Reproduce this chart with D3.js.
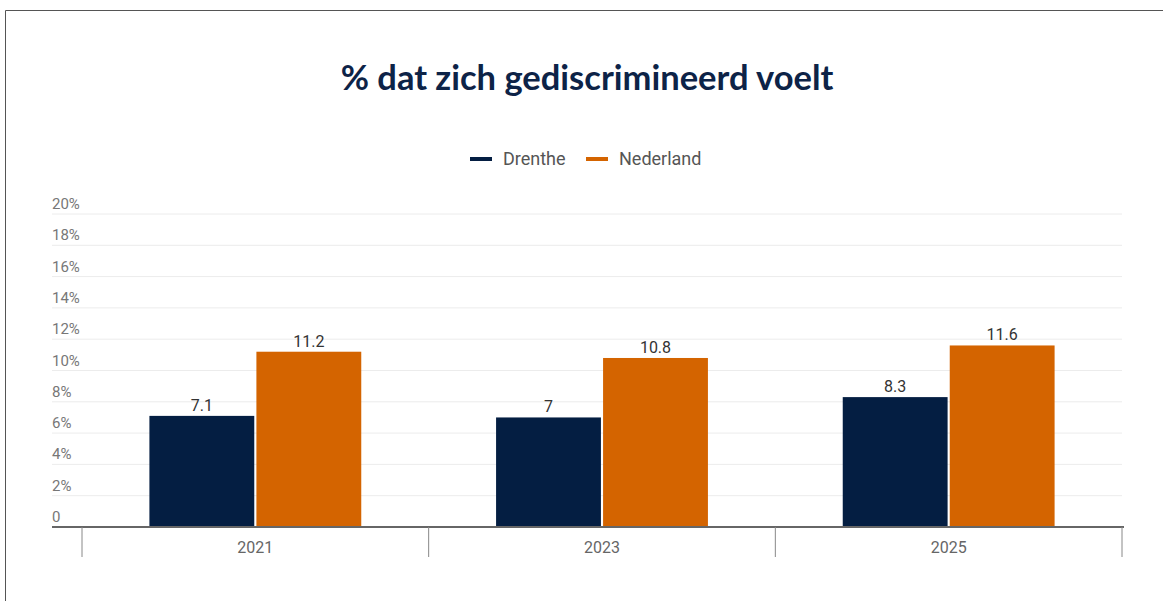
<!DOCTYPE html>
<html>
<head>
<meta charset="utf-8">
<script src="https://cdn.jsdelivr.net/npm/d3@7"></script>
<style>
  html, body { margin: 0; padding: 0; background: #fff; }
  svg { display: block; }
</style>
</head>
<body>
<svg id="chart" width="1163" height="601"></svg>
<script>
const years = ['2021', '2023', '2025'];
const seriesNames = ['Drenthe', 'Nederland'];
const drenthe = [7.1, 7, 8.3];
const nederland = [11.2, 10.8, 11.6];
const yTicks = [0, 2, 4, 6, 8, 10, 12, 14, 16, 18, 20];
const colors = ['#041e42', '#d46400'];

const svg = d3.select('#chart');
const width = 1163, height = 601;
const margin = { top: 214, bottom: 74, left: 82, right: 41 };

// frame
svg.append('path')
  .attr('d', `M5.5,${height} V10.5 H${width}`)
  .attr('fill', 'none')
  .attr('stroke', '#555')
  .attr('stroke-width', 1);

// title
svg.append('text')
  .attr('x', 587)
  .attr('y', 90)
  .attr('text-anchor', 'middle')
  .attr('font-family', 'Lato, sans-serif')
  .attr('font-weight', 'bold')
  .attr('font-size', 34.5)
  .attr('fill', '#0d2347')
  .text('% dat zich gediscrimineerd voelt');

// legend
const legend = svg.append('g').attr('font-family', 'Roboto, sans-serif').attr('font-size', 18);
const legendX = [470, 586];
seriesNames.forEach((name, i) => {
  legend.append('line')
    .attr('x1', legendX[i]).attr('x2', legendX[i] + 22)
    .attr('y1', 159).attr('y2', 159)
    .attr('stroke', colors[i]).attr('stroke-width', 4);
  legend.append('text')
    .attr('x', legendX[i] + 33).attr('y', 165)
    .attr('fill', '#555')
    .text(name);
});

const x0 = d3.scaleBand()
  .domain(years)
  .range([margin.left, width - margin.right])
  .paddingInner(0)
  .paddingOuter(0);

const x1 = d3.scaleBand()
  .domain(seriesNames)
  .range([0, x0.bandwidth()])
  .paddingOuter(0.63)
  .paddingInner(0.02);

const y = d3.scaleLinear()
  .domain([0, 20])
  .range([height - margin.bottom, margin.top]);

// grid + y labels
const grid = svg.append('g');
yTicks.forEach(t => {
  if (t > 0) {
    grid.append('line')
      .attr('x1', 52).attr('x2', 1122)
      .attr('y1', y(t)).attr('y2', y(t))
      .attr('stroke', '#ececec').attr('stroke-width', 1);
  }
  grid.append('text')
    .attr('x', 52).attr('y', y(t) - 5)
    .attr('font-family', 'Roboto, sans-serif')
    .attr('font-size', 15)
    .attr('fill', '#777')
    .text(t === 0 ? '0' : t + '%');
});

// bars
const data = years.map((yr, i) => ({ year: yr, values: [drenthe[i], nederland[i]] }));
const groups = svg.append('g')
  .selectAll('g')
  .data(data)
  .join('g')
  .attr('transform', d => `translate(${x0(d.year)},0)`);

groups.selectAll('rect')
  .data(d => d.values.map((v, i) => ({ key: seriesNames[i], value: v, i })))
  .join('rect')
  .attr('x', d => x1(d.key))
  .attr('y', d => y(d.value))
  .attr('width', x1.bandwidth())
  .attr('height', d => y(0) - y(d.value))
  .attr('fill', d => colors[d.i]);

groups.selectAll('text.val')
  .data(d => d.values.map((v, i) => ({ key: seriesNames[i], value: v })))
  .join('text')
  .attr('class', 'val')
  .attr('x', d => x1(d.key) + x1.bandwidth() / 2)
  .attr('y', d => y(d.value) - 5)
  .attr('text-anchor', 'middle')
  .attr('font-family', 'Roboto, sans-serif')
  .attr('font-size', 16)
  .attr('fill', '#333')
  .text(d => d.value);

// x axis
const base = y(0);
svg.append('line')
  .attr('x1', 52).attr('x2', 1124)
  .attr('y1', base).attr('y2', base)
  .attr('stroke', '#666').attr('stroke-width', 2);

const seps = years.map(yr => x0(yr)).concat([x0(years[years.length - 1]) + x0.bandwidth()]);
svg.append('g')
  .selectAll('line')
  .data(seps)
  .join('line')
  .attr('x1', d => d).attr('x2', d => d)
  .attr('y1', base).attr('y2', base + 30)
  .attr('stroke', '#888').attr('stroke-width', 1);

svg.append('g')
  .selectAll('text')
  .data(years)
  .join('text')
  .attr('x', d => x0(d) + x0.bandwidth() / 2)
  .attr('y', base + 26)
  .attr('text-anchor', 'middle')
  .attr('font-family', 'Roboto, sans-serif')
  .attr('font-size', 16)
  .attr('fill', '#666')
  .text(d => d);
</script>
</body>
</html>
